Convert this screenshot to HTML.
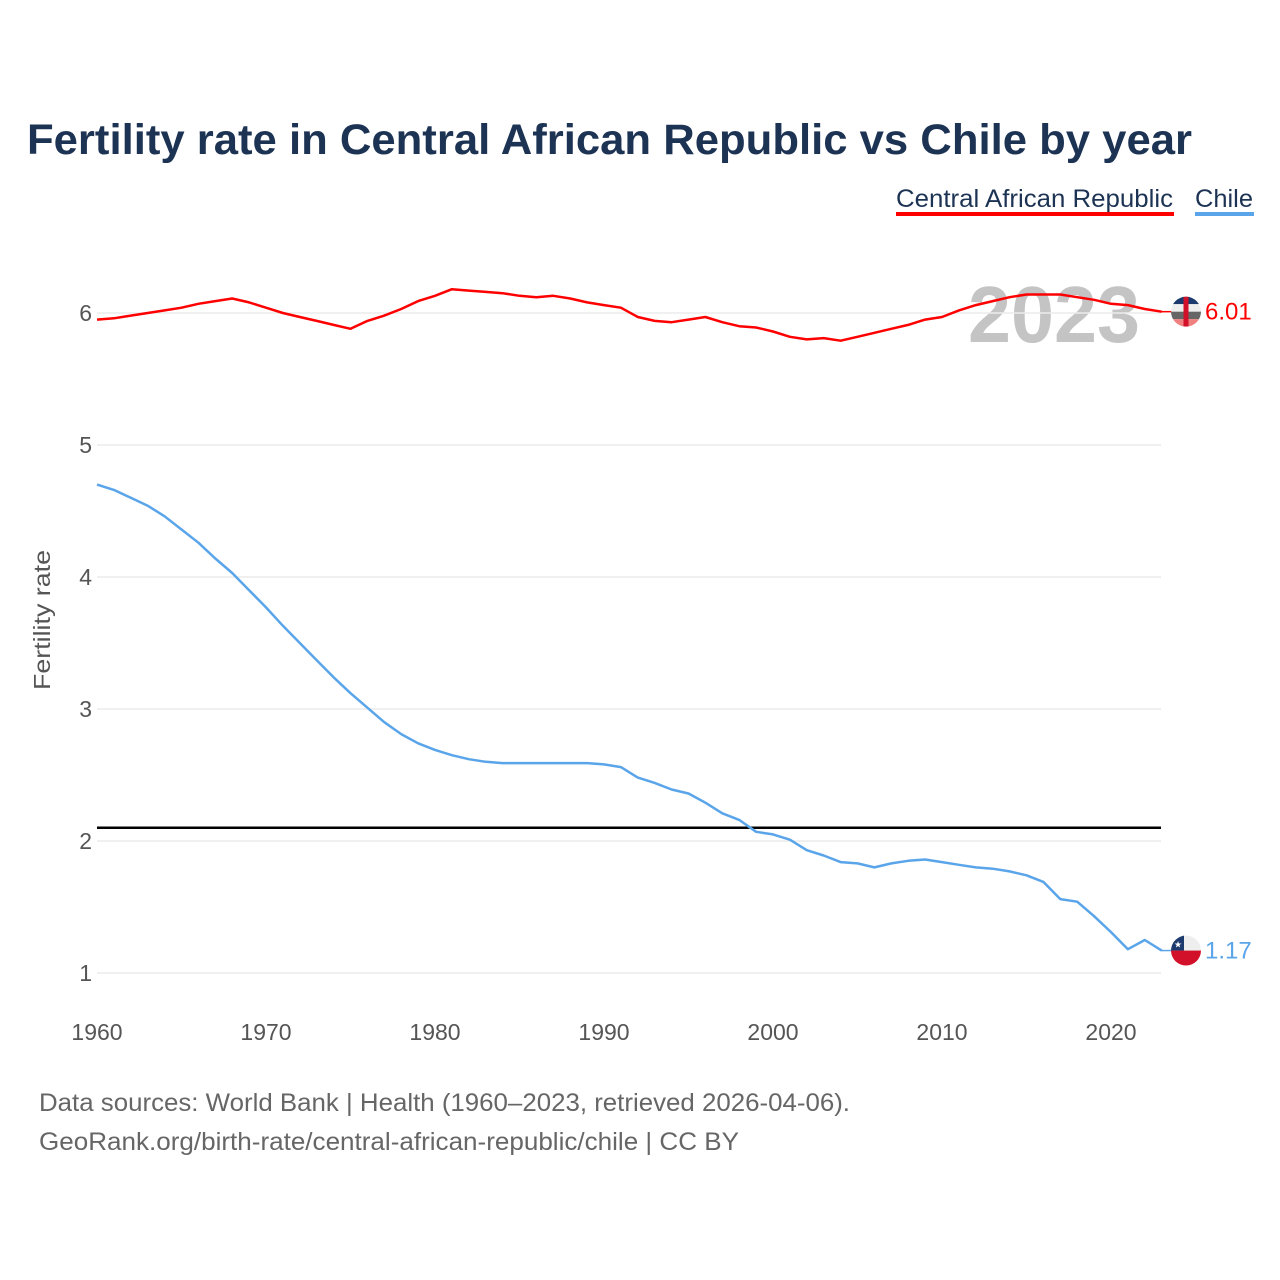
<!DOCTYPE html>
<html><head><meta charset="utf-8"><style>
body{margin:0;background:#fff;font-family:"Liberation Sans",sans-serif;}
svg{display:block}
</style></head><body>
<svg id="chart" width="1280" height="1280" viewBox="0 0 1280 1280">
<text x="27" y="154" font-size="43" font-weight="bold" fill="#1d3354" textLength="1165" lengthAdjust="spacingAndGlyphs">Fertility rate in Central African Republic vs Chile by year</text>
<g>
<text x="896" y="207" font-size="25" fill="#1d3354" textLength="277" lengthAdjust="spacingAndGlyphs">Central African Republic</text>
<rect x="896" y="212" width="278" height="4" fill="#ff0000"/>
<text x="1195" y="207" font-size="25" fill="#1d3354" textLength="58" lengthAdjust="spacingAndGlyphs">Chile</text>
<rect x="1195" y="212" width="59" height="4" fill="#5aa5ea"/>
</g>
<text x="1140" y="342" font-size="80" font-weight="bold" fill="#c4c4c4" text-anchor="end" textLength="172" lengthAdjust="spacingAndGlyphs">2023</text>
<g id="grid"></g><g id="axes"></g><g id="lines"></g>
<text transform="translate(50,620) rotate(-90)" font-size="23" fill="#555" text-anchor="middle" textLength="140" lengthAdjust="spacingAndGlyphs">Fertility rate</text>
<text x="39" y="1111" font-size="25" fill="#666" textLength="811" lengthAdjust="spacingAndGlyphs">Data sources: World Bank | Health (1960–2023, retrieved 2026-04-06).</text>
<text x="39" y="1150" font-size="25" fill="#666" textLength="700" lengthAdjust="spacingAndGlyphs">GeoRank.org/birth-rate/central-african-republic/chile | CC BY</text>
</svg>
<script>
const years=[];for(let y=1960;y<=2023;y++)years.push(y);
const carValues=[5.95,5.96,5.98,6.00,6.02,6.04,6.07,6.09,6.11,6.08,6.04,6.00,5.97,5.94,5.91,5.88,5.94,5.98,6.03,6.09,6.13,6.18,6.17,6.16,6.15,6.13,6.12,6.13,6.11,6.08,6.06,6.04,5.97,5.94,5.93,5.95,5.97,5.93,5.90,5.89,5.86,5.82,5.80,5.81,5.79,5.82,5.85,5.88,5.91,5.95,5.97,6.02,6.06,6.09,6.12,6.14,6.14,6.14,6.12,6.10,6.07,6.06,6.03,6.01];
const chileValues=[4.70,4.66,4.60,4.54,4.46,4.36,4.26,4.14,4.03,3.90,3.77,3.63,3.50,3.37,3.24,3.12,3.01,2.90,2.81,2.74,2.69,2.65,2.62,2.60,2.59,2.59,2.59,2.59,2.59,2.59,2.58,2.56,2.48,2.44,2.39,2.36,2.29,2.21,2.16,2.07,2.05,2.01,1.93,1.89,1.84,1.83,1.80,1.83,1.85,1.86,1.84,1.82,1.80,1.79,1.77,1.74,1.69,1.56,1.54,1.43,1.31,1.18,1.25,1.17];
const yTicks=[1,2,3,4,5,6];
const xTicks=[1960,1970,1980,1990,2000,2010,2020];
const replacementLevel=2.1;
const NS="http://www.w3.org/2000/svg";
const X=y=>97+(y-1960)*(1111-97)/60;
const Y=v=>973-(v-1)*132;
function mk(tag,attrs,parent){const e=document.createElementNS(NS,tag);for(const k in attrs)e.setAttribute(k,attrs[k]);parent.appendChild(e);return e;}
const grid=document.getElementById('grid'),axes=document.getElementById('axes'),lines=document.getElementById('lines');
yTicks.forEach(t=>{
 const l=mk('line',{x1:97,x2:1161,y1:Y(t),y2:Y(t),stroke:'#ebebeb','stroke-width':1.5},grid);
 
 
 const tx=mk('text',{x:92,y:Y(t)+8,'font-size':23,fill:'#555','text-anchor':'end'},axes);tx.textContent=t;
 
 
});
xTicks.forEach(t=>{
 const tx=mk('text',{x:X(t),y:1040,'font-size':23,fill:'#555','text-anchor':'middle'},axes);tx.textContent=t;
 
 
});
const ref=mk('line',{x1:97,x2:1161,y1:Y(replacementLevel),y2:Y(replacementLevel),stroke:'#000','stroke-width':2.5},lines);


function path(vals,color,name){
 const d=vals.map((v,i)=>(i?'L':'M')+X(years[i]).toFixed(1)+','+Y(v).toFixed(1)).join(' ');
 const p=mk('path',{d:d,fill:'none',stroke:color,'stroke-width':2.5,'stroke-linejoin':'round'},lines);
 
 
}
path(carValues,'#ff0000','line-car');
path(chileValues,'#5aa5ea','line-chile');
function endLabel(v,color,name,flag){
 const y=Y(v),x=1186;
 const g=mk('g',{},lines);
 
 
 mk('line',{x1:1161,x2:1172,y1:y,y2:y,stroke:color,'stroke-width':1.5},g);
 const cid='clip'+name;
 const cp=mk('clipPath',{id:cid},g);mk('circle',{cx:x,cy:y,r:15},cp);
 const f=mk('g',{'clip-path':'url(#'+cid+')'},g);
 if(flag==='car'){
  const c=['#1d3a6e','#eeeeee','#666','#f08080'];
  c.forEach((col,i)=>mk('rect',{x:x-15,y:y-15+i*7.5,width:30,height:7.5,fill:col},f));
  mk('rect',{x:x-2.5,y:y-15,width:5,height:30,fill:'#d2102a'},f);
 }else{
  mk('rect',{x:x-15,y:y-15,width:30,height:15,fill:'#eee'},f);
  mk('rect',{x:x-15,y:y-15,width:13,height:15,fill:'#1d3a6e'},f);
  mk('rect',{x:x-15,y:y,width:30,height:15,fill:'#d2102a'},f);
  const s=mk('text',{x:x-8,y:y-3,'font-size':9,fill:'#fff','text-anchor':'middle'},f);s.textContent='★';
 }
 const t=mk('text',{x:1205,y:y+8,'font-size':24,fill:color},lines);t.textContent=v.toFixed(2);
 
 
}
endLabel(carValues[carValues.length-1],'#ff0000','car','car');
endLabel(chileValues[chileValues.length-1],'#5aa5ea','chile','chile');
</script>
</body></html>
